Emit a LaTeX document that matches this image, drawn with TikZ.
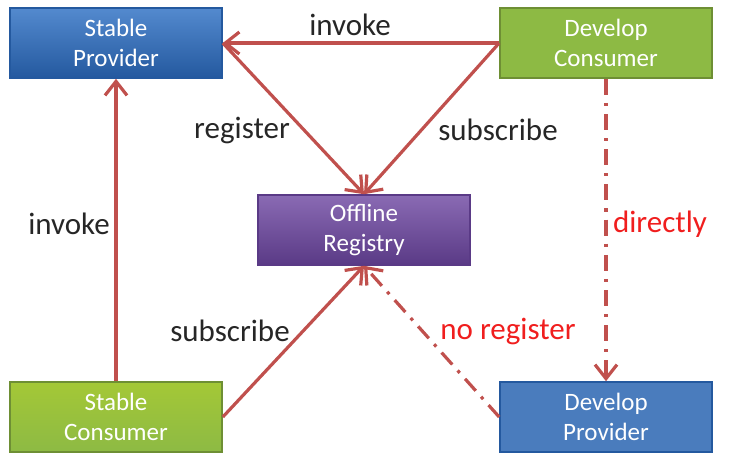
\documentclass[tikz,border=0pt]{standalone}
\usepackage{fontspec}
\setmainfont{Carlito}
\usetikzlibrary{arrows.meta,positioning,shapes}

\definecolor{provblue}{HTML}{3575C6}
\definecolor{provblueb}{HTML}{24599F}
\definecolor{devblue}{HTML}{4A7CBD}
\definecolor{consgreen}{HTML}{8DBA44}
\definecolor{consgreenb}{HTML}{6E8F34}
\definecolor{regpurple}{HTML}{7550A6}
\definecolor{regpurpleb}{HTML}{5A3A86}
\definecolor{arrred}{HTML}{C0504D}
\definecolor{labred}{HTML}{F01E1E}

\tikzset{
  box/.style={rectangle, minimum width=106pt, minimum height=35pt, align=center,
    text=white, font=\fontsize{12.5}{15}\selectfont, line width=0.8pt},
  flow/.style={draw=arrred, line width=1.6pt, -{Straight Barb[length=7pt,width=11pt]}},
  dashflow/.style={flow, dash pattern=on 8pt off 4pt on 1.6pt off 4pt},
  lab/.style={font=\fontsize{15.5}{18}\selectfont, text=black!85},
  redlab/.style={font=\fontsize{15.5}{18}\selectfont, text=labred}
}

\begin{document}
\begin{tikzpicture}[x=0.5pt,y=-0.5pt]
    \useasboundingbox (0,0) rectangle (745,461);

    \node[box,draw=provblueb,top color=provblue!85!white,bottom color=provblueb] (sprov) at (116,43) {Stable\\Provider};
    \node[box,draw=consgreenb,fill=consgreen] (dcons) at (606,43) {Develop\\Consumer};
    \node[box,draw=regpurpleb,top color=regpurple!85!white,bottom color=regpurpleb] (reg) at (364,230) {Offline\\Registry};
    \node[box,draw=consgreenb,top color=consgreen!80!yellow,bottom color=consgreen] (scons) at (116,417) {Stable\\Consumer};
    \node[box,draw=provblueb,fill=devblue] (dprov) at (606,417) {Develop\\Provider};

    \foreach \from/\to in {dcons/sprov,sprov.east/reg.north,dcons.west/reg.north,scons/sprov,scons.east/reg.south}
    \draw[flow] (\from)--(\to);

    \draw[dashflow] (dcons)--(dprov);
    \draw[dashflow] (dprov.west)--(reg.south);

    % edge labels
    \node[lab] (linvoke1) at (350,25) {invoke};
    \node[lab] (lregister) at (242,130) {register};
    \node[lab] (lsubscribe1) at (498,130) {subscribe};
    \node[lab] (linvoke2) at (69,224) {invoke};
    \node[lab] (lsubscribe2) at (230,331) {subscribe};
    \node[redlab] (lnoreg) at (508,331) {no register};
    \node[redlab] (ldirectly) at (660,224) {directly};
  \end{tikzpicture}
\end{document}
